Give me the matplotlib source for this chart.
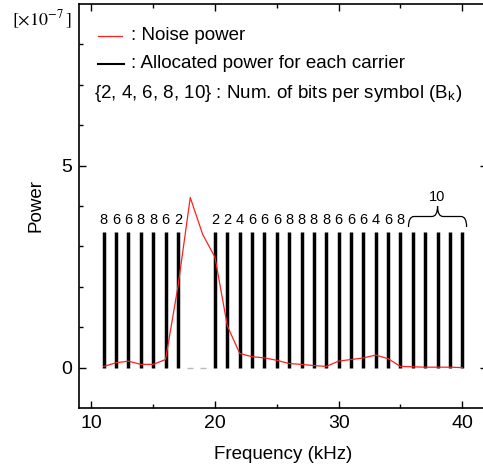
import matplotlib
matplotlib.use('Agg')
import matplotlib.pyplot as plt
from matplotlib.path import Path
from matplotlib.patches import PathPatch
from matplotlib.lines import Line2D

# carrier frequencies (kHz) and noise power [x1e-7]
noise_freq = [11, 12, 13, 14, 15, 16, 17, 18, 19, 20,
              21, 22, 23, 24, 25, 26, 27, 28, 29, 30,
              31, 32, 33, 34, 35, 36, 37, 38, 39, 40]
noise_power = [0.03, 0.12, 0.16, 0.08, 0.08, 0.20, 2.00, 4.21, 3.30, 2.73,
               1.03, 0.35, 0.27, 0.24, 0.18, 0.10, 0.08, 0.05, 0.03, 0.16,
               0.20, 0.24, 0.31, 0.22, 0.03, 0.02, 0.01, 0.01, 0.01, 0.00]

# allocated carriers and bits per symbol
carrier_freq = [11, 12, 13, 14, 15, 16, 17,
                20, 21, 22, 23, 24, 25, 26, 27, 28, 29, 30, 31, 32, 33, 34, 35,
                36, 37, 38, 39, 40]
carrier_power = [3.35] * len(carrier_freq)
carrier_bits = [8, 6, 6, 8, 8, 6, 2,
                2, 2, 4, 6, 6, 6, 8, 8, 8, 8, 6, 6, 6, 4, 6, 8,
                10, 10, 10, 10, 10]
unused_freq = [18, 19]

W, H = 483, 470
plt.rcParams['font.family'] = ['Liberation Sans', 'DejaVu Sans']
plt.rcParams['mathtext.fontset'] = 'stix'

fig = plt.figure(figsize=(W / 100, H / 100), dpi=100)
ax = fig.add_axes([79 / W, 62 / H, 408 / W, 404 / H])

ax.plot(noise_freq, noise_power, color='#ff2020', linewidth=0.9, zorder=3)
ax.vlines(carrier_freq, 0, carrier_power, color='black', linewidth=2.5, zorder=2)
ax.plot(unused_freq, [0, 0], linestyle='none', marker='_', markersize=4,
        color='#bbbbbb', markeredgewidth=1)

# bit labels (the 10-bit group gets a brace)
for f, b, p in zip(carrier_freq, carrier_bits, carrier_power):
    if b != 10:
        ax.text(f, p + 0.30, str(b), ha='center', va='center', fontsize=10.5)

grp = [f for f, b in zip(carrier_freq, carrier_bits) if b == 10]
x0, x1 = grp[0] - 0.35, grp[-1] + 0.35
xm = (x0 + x1) / 2
yb, h, r = 3.48, 0.52, 0.45
ym = yb + h / 2
verts = [(x0, yb), (x0, ym), (x0 + r, ym), (xm - r, ym), (xm, ym), (xm, yb + h),
         (xm, ym), (xm + r, ym), (x1 - r, ym), (x1, ym), (x1, yb)]
codes = [Path.MOVETO, Path.CURVE3, Path.CURVE3, Path.LINETO, Path.CURVE3, Path.CURVE3,
         Path.CURVE3, Path.CURVE3, Path.LINETO, Path.CURVE3, Path.CURVE3]
ax.add_patch(PathPatch(Path(verts, codes), facecolor='none', edgecolor='black', linewidth=0.9))
ax.text(xm, 4.22, '10', ha='center', va='center', fontsize=10.5)

ax.set_xlim(9, 42)
ax.set_ylim(-1, 9)
ax.set_xticks([10, 20, 30, 40])
ax.set_xticks([15, 25, 35], minor=True)
ax.set_yticks([0, 5])
ax.set_yticks([1, 2, 3, 4, 6, 7, 8], minor=True)
ax.tick_params(which='both', direction='in', top=True, right=True, labelsize=14, pad=5)
ax.tick_params(which='major', length=5, width=1)
ax.tick_params(which='minor', length=3, width=1)
for s in ax.spines.values():
    s.set_linewidth(1.2)

ax.set_xlabel('Frequency (kHz)', fontsize=13.5, labelpad=10)
ax.set_ylabel('Power', fontsize=13.5, labelpad=12)


def px(x, y):
    return x / W, 1 - y / H


fig.text(*px(12, 20), r'$[\times 10^{-7}\,]$', fontsize=13, va='center', ha='left')

fig.add_artist(Line2D([98 / W, 122 / W], [1 - 35.5 / H] * 2, color='#ff2020', linewidth=0.9))
fig.text(*px(131, 36), ': Noise power', fontsize=13.5, va='center')
fig.add_artist(Line2D([98 / W, 124 / W], [1 - 64 / H] * 2, color='black', linewidth=1.5))
fig.text(*px(131, 63), ': Allocated power for each carrier', fontsize=13.5, va='center')
fig.text(*px(94, 93), r'{2, 4, 6, 8, 10} : Num. of bits per symbol (B$_\mathregular{k}$)',
         fontsize=13.5, va='center')

fig.savefig('out.png', dpi=100)
